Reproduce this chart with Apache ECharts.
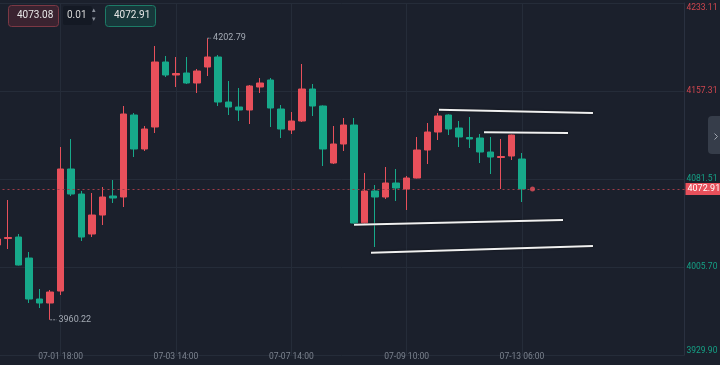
<!DOCTYPE html>
<html style="height: 100%">
<head>
<meta charset="utf-8">
<script src="https://cdn.jsdelivr.net/npm/echarts@6/dist/echarts.min.js"></script>
</head>
<body style="height: 100%; margin: 0; background: #1b202c">
<div id="container" style="width: 720px; height: 365px"></div>
<script>
// one row per 4h bar: [open, close, low, high]
var candles = [
    [4024.64, 4029.81, 4022.06, 4033.26],
    [4030.25, 4031.11, 4021.20, 4063.41],
    [4031.53, 4007.41, 4007.00, 4034.12],
    [4013.44, 3978.13, 3974.68, 4018.61],
    [3978.13, 3974.68, 3970.37, 3986.74],
    [3974.68, 3984.15, 3960.22, 3985.88],
    [3985.01, 4090.11, 3981.57, 4109.06],
    [4090.11, 4068.57, 4066.85, 4115.95],
    [4068.57, 4031.53, 4028.09, 4071.16],
    [4034.12, 4050.48, 4031.53, 4069.44],
    [4050.48, 4065.99, 4041.87, 4074.60],
    [4066.85, 4065.13, 4060.82, 4080.63],
    [4065.99, 4137.49, 4057.38, 4144.38],
    [4136.63, 4107.34, 4100.45, 4138.35],
    [4107.34, 4124.57, 4105.62, 4127.15],
    [4126.29, 4182.28, 4121.12, 4196.06],
    [4182.28, 4171.08, 4169.36, 4187.45],
    [4171.08, 4172.38, 4160.75, 4186.59],
    [4172.81, 4164.19, 4163.33, 4186.59],
    [4164.19, 4174.53, 4155.58, 4176.25],
    [4177.97, 4186.59, 4170.22, 4202.79],
    [4186.59, 4147.83, 4144.38, 4188.31],
    [4147.83, 4143.52, 4136.63, 4165.92],
    [4143.52, 4140.93, 4131.46, 4159.89],
    [4140.93, 4161.61, 4128.87, 4162.47],
    [4160.75, 4164.19, 4155.58, 4168.50],
    [4166.78, 4142.66, 4126.29, 4168.50],
    [4141.80, 4124.57, 4116.81, 4145.24],
    [4123.71, 4131.46, 4120.26, 4139.21],
    [4131.46, 4159.02, 4130.60, 4180.56],
    [4159.02, 4144.38, 4135.77, 4163.33],
    [4144.38, 4107.34, 4092.69, 4144.90],
    [4095.28, 4111.65, 4094.42, 4127.15],
    [4111.65, 4128.01, 4105.62, 4134.04],
    [4128.01, 4043.59, 4043.00, 4134.04],
    [4043.59, 4071.16, 4043.00, 4086.66],
    [4071.16, 4065.99, 4022.92, 4076.32],
    [4065.99, 4078.05, 4064.27, 4091.83],
    [4078.05, 4073.74, 4062.54, 4090.11],
    [4072.88, 4082.35, 4054.79, 4084.08],
    [4082.35, 4106.48, 4082.00, 4117.68],
    [4106.48, 4121.98, 4094.42, 4129.73],
    [4121.98, 4135.77, 4115.09, 4138.35],
    [4136.63, 4124.57, 4119.40, 4137.20],
    [4125.43, 4117.68, 4109.06, 4131.46],
    [4117.25, 4115.95, 4108.20, 4134.90],
    [4116.81, 4104.75, 4095.28, 4120.26],
    [4104.75, 4100.45, 4085.80, 4117.68],
    [4100.02, 4100.88, 4072.88, 4115.95],
    [4101.31, 4119.40, 4097.86, 4119.80],
    [4098.72, 4072.91, 4061.68, 4103.89]
];
var slotCount = 66;                 // bars + empty space on the right
var dateLabels = ['07-01 18:00', '07-03 14:00', '07-07 14:00', '07-09 10:00', '07-13 06:00'];
var dateIdx = [6, 17, 28, 39, 50];
var priceTicks = ['3929.90', '4005.70', '4081.51', '4157.31', '4233.11'];
var priceMin = 3929.90, priceMax = 4233.11;
var lastPrice = 4072.91;
var liveTick = [51, 4072.91];
var highMark = [20, 4202.79];
var lowMark = [5, 3960.22];
// user drawn lines, [barIndex, price]
var trendLines = [
    [[42.08, 4141.2], [56.77, 4138.35]],
    [[46.38, 4121.7], [54.39, 4121.1]],
    [[33.98, 4042.1], [53.91, 4046.2]],
    [[35.6, 4018.0], [56.77, 4023.8]]
];

var UP = '#e8505b', DOWN = '#17a98a';
var FONT = 'Roboto, sans-serif';

var categories = [];
for (var i = 0; i < slotCount; i++) categories.push(i);

var myChart = echarts.init(document.getElementById('container'));

var series = [{
    type: 'candlestick',
    data: candles,
    barWidth: 7,
    itemStyle: { color: UP, color0: DOWN, borderColor: UP, borderColor0: DOWN, borderWidth: 1 },
    markLine: {
        silent: true,
        symbol: ['none', 'none'],
        animation: false,
        data: [{ yAxis: lastPrice }],
        lineStyle: { type: [2, 3], color: '#a03d48', width: 1 },
        label: {
            position: 'end', distance: 1, formatter: lastPrice.toFixed(2),
            color: '#fff', backgroundColor: UP, padding: [2, 2, 1, 2],
            fontSize: 9, fontFamily: FONT
        }
    }
}, {
    type: 'scatter',
    data: [liveTick],
    symbolSize: 5,
    itemStyle: { color: UP },
    z: 5
}];

trendLines.forEach(function (ln) {
    series.push({
        type: 'line', xAxisIndex: 1, data: ln, symbol: 'none', silent: true,
        lineStyle: { color: '#f0f0f0', width: 2, shadowColor: 'rgba(0,0,0,0.7)', shadowBlur: 2 },
        z: 6
    });
});

[highMark, lowMark].forEach(function (m, k) {
    series.push({
        type: 'line', xAxisIndex: 1, symbol: 'none', silent: true,
        data: [m, [m[0] + (k === 0 ? 0.35 : 0.6), m[1]]],
        lineStyle: { color: '#8a909a', width: 1, type: [2, 1] },
        endLabel: { show: true, formatter: m[1].toFixed(2), color: '#a4aab4', fontSize: 9, fontFamily: FONT, distance: 2 },
        z: 6
    });
});

var option = {
    backgroundColor: '#1b202c',
    animation: false,
    grid: { left: -7.5, right: 35.5, top: 3, bottom: 10, outerBoundsMode: 'none', containLabel: false },
    xAxis: [{
        type: 'category',
        data: categories,
        boundaryGap: true,
        axisLine: { show: false },
        axisTick: { show: false },
        axisLabel: {
            interval: function (idx) { return dateIdx.indexOf(idx) >= 0; },
            formatter: function (v, idx) { var k = dateIdx.indexOf(idx); return k >= 0 ? dateLabels[k] : ''; },
            color: '#7b828e', fontSize: 8.5, fontFamily: FONT, margin: -3
        },
        splitLine: {
            show: true, alignWithLabel: true,
            interval: function (idx) { return dateIdx.indexOf(idx) >= 0; },
            lineStyle: { color: '#252c39', width: 1 }
        }
    }, {
        type: 'value', min: -0.5, max: slotCount - 0.5, show: false
    }],
    yAxis: [{
        type: 'value', min: priceMin, max: priceMax, show: false, position: 'right'
    }, {
        type: 'value', min: 0, max: 4, interval: 1, position: 'right',
        axisLine: { show: true, lineStyle: { color: '#2a3140' } },
        axisTick: { show: false },
        splitLine: { show: true, lineStyle: { color: '#252c39' } },
        axisLabel: {
            margin: 2, fontSize: 8.5, fontFamily: FONT,
            verticalAlignMaxLabel: 'top', verticalAlignMinLabel: 'bottom',
            formatter: function (v) { return priceTicks[v]; },
            color: function (v) { return Number(v) >= 3 ? '#d0464f' : '#15a085'; }
        }
    }],
    graphic: [
        { type: 'rect', left: 8, top: 5, shape: { width: 50, height: 21, r: 3 }, style: { fill: '#3a2330', stroke: '#7c3844', lineWidth: 1 }, z: 100 },
        { type: 'text', left: 17, top: 10, style: { text: '4073.08', fill: '#e6e6e6', font: '10px ' + FONT }, z: 101 },
        { type: 'rect', left: 63, top: 6, shape: { width: 29, height: 19, r: 2 }, style: { fill: '#141924' }, z: 100 },
        { type: 'text', left: 67, top: 10, style: { text: '0.01', fill: '#d6d6d6', font: '10px ' + FONT }, z: 101 },
        { type: 'text', left: 92, top: 7, style: { text: '▴', fill: '#8a909a', font: '7px sans-serif' }, z: 101 },
        { type: 'text', left: 92, top: 16, style: { text: '▾', fill: '#8a909a', font: '7px sans-serif' }, z: 101 },
        { type: 'rect', left: 105, top: 5, shape: { width: 50, height: 21, r: 3 }, style: { fill: '#17373a', stroke: '#1d7b67', lineWidth: 1 }, z: 100 },
        { type: 'text', left: 114, top: 10, style: { text: '4072.91', fill: '#e6e6e6', font: '10px ' + FONT }, z: 101 },
        { type: 'rect', left: 708, top: 116, shape: { width: 14, height: 38, r: [4, 0, 0, 4] }, style: { fill: '#363d4a' }, z: 100 },
        { type: 'polyline', left: 712, top: 131, shape: { points: [[0, 0], [3, 3], [0, 6]] }, style: { stroke: '#a0a6b0', lineWidth: 1, fill: null }, z: 101 }
    ],
    series: series
};

myChart.setOption(option);
</script>
</body>
</html>
